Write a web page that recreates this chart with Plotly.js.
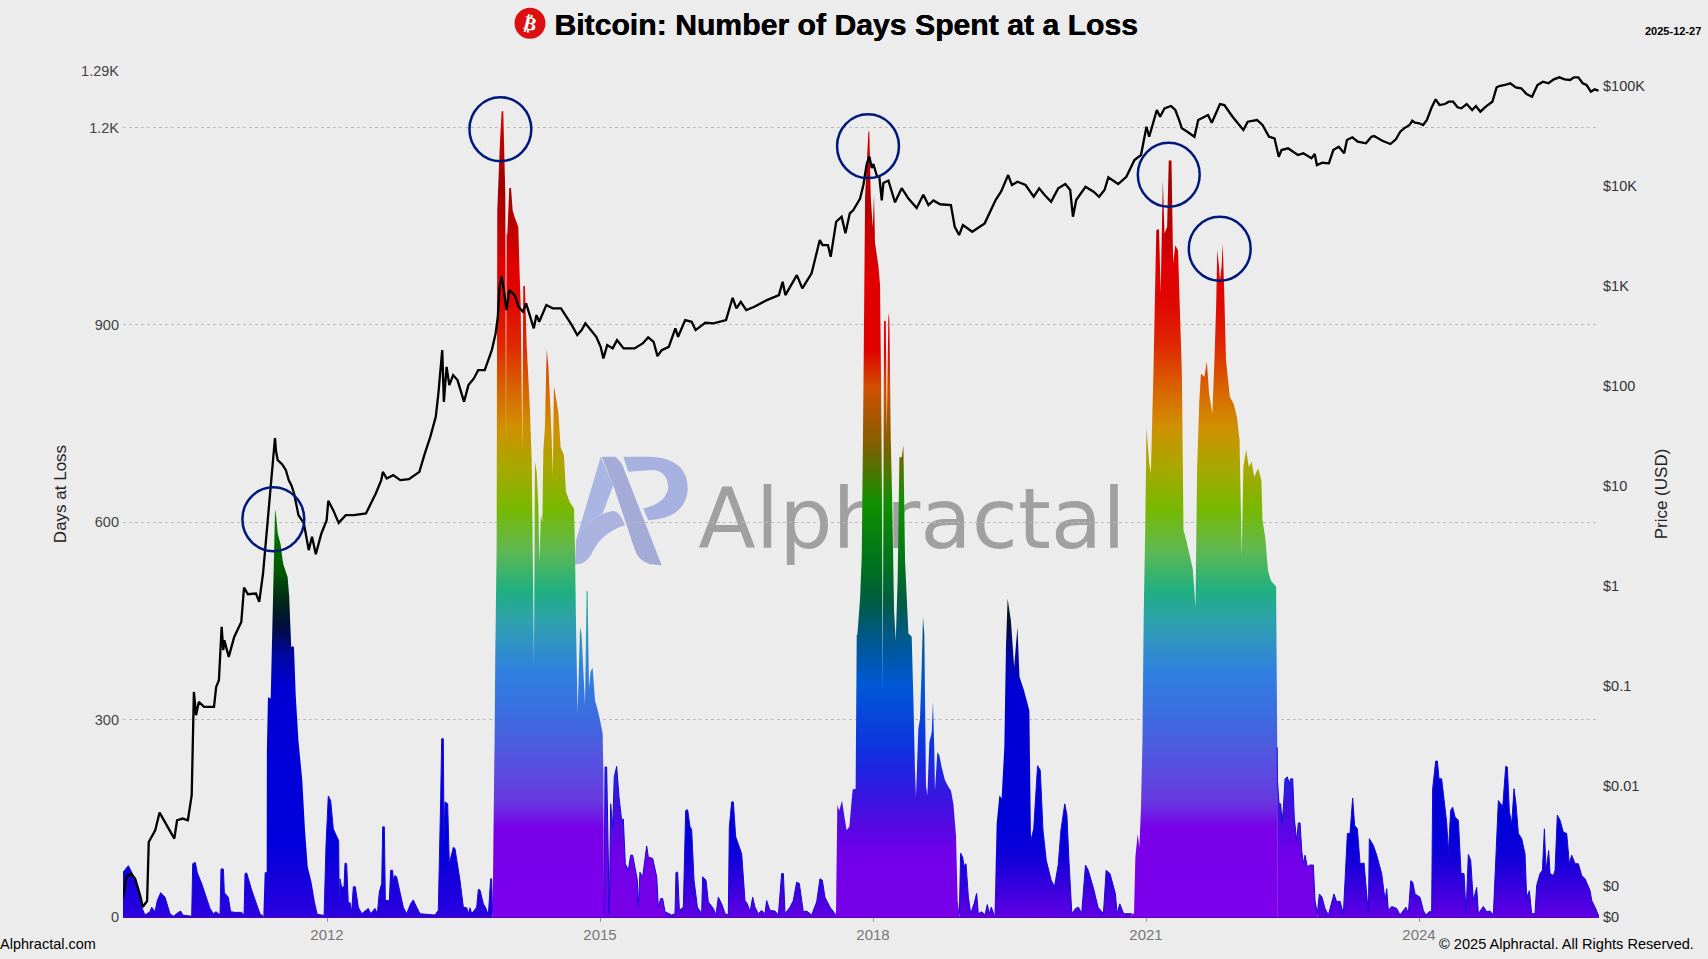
<!DOCTYPE html>
<html>
<head>
<meta charset="utf-8">
<script src="https://cdn.plot.ly/plotly-3.0.1.min.js"></script>
<style>html,body{margin:0;padding:0;background:#ececec}#c{width:1708px;height:959px}</style>
</head>
<body>
<div id="c"></div>
<script>
// Days at a loss: [decimal year, days], one array per stretch of the history
var eraA=[[2009.758,68],[2009.817,78],[2009.872,63],[2009.926,41],[2009.963,15],[2010.000,3],[2010.055,8],[2010.073,15],[2010.110,8],[2010.135,25],[2010.172,37],[2010.220,30],[2010.274,5],[2010.311,1],[2010.366,7],[2010.392,9],[2010.414,3],[2010.513,1],[2010.524,81],[2010.553,83],[2010.575,67],[2010.622,51],[2010.714,13],[2010.751,5],[2010.780,8],[2010.824,3],[2010.835,73],[2010.861,73],[2010.872,37],[2010.915,30],[2010.941,8],[2010.989,7],[2011.062,7],[2011.088,3],[2011.099,66],[2011.117,67],[2011.172,41],[2011.263,5],[2011.300,1]];
var eraB=[[2011.315,68],[2011.337,68],[2011.339,253],[2011.351,334],[2011.381,332],[2011.399,440],[2011.411,510],[2011.429,620],[2011.441,610],[2011.459,583],[2011.489,567],[2011.518,537],[2011.567,517],[2011.585,486],[2011.595,450],[2011.607,410],[2011.625,412],[2011.637,410],[2011.656,337],[2011.686,268],[2011.728,208],[2011.758,132],[2011.788,76],[2011.830,53],[2011.866,23],[2011.896,5],[2011.968,3]];
var eraC=[[2011.989,110],[2012.014,184],[2012.040,177],[2012.069,134],[2012.106,124],[2012.128,116],[2012.135,5],[2012.143,58],[2012.161,45],[2012.187,46],[2012.198,82],[2012.216,81],[2012.234,20],[2012.252,22],[2012.271,8],[2012.289,46],[2012.311,46],[2012.344,15],[2012.381,5],[2012.454,13],[2012.480,5],[2012.527,13],[2012.553,5],[2012.575,38],[2012.601,51],[2012.612,137],[2012.630,137],[2012.641,25],[2012.685,25],[2012.699,71],[2012.721,71],[2012.729,56],[2012.747,63],[2012.765,61],[2012.838,15],[2012.875,5],[2012.919,20],[2012.948,26],[2012.985,15],[2013.022,5],[2013.186,3],[2013.223,10],[2013.249,180],[2013.260,271],[2013.278,271],[2013.286,117],[2013.296,175],[2013.326,172],[2013.344,81],[2013.388,106],[2013.406,104],[2013.461,56],[2013.498,15],[2013.535,14],[2013.553,5],[2013.571,14],[2013.590,5],[2013.645,15],[2013.663,42],[2013.681,41],[2013.718,20],[2013.747,13],[2013.773,3],[2013.798,58],[2013.809,58],[2013.820,5]];
var eraD=[[2013.835,200],[2013.842,274],[2013.849,400],[2013.864,565],[2013.871,1074],[2013.901,1180],[2013.919,1225],[2013.937,1225],[2013.948,1161],[2013.959,1100],[2013.967,714],[2013.974,1040],[2013.981,1037],[2014.003,1108],[2014.022,1108],[2014.040,1074],[2014.066,1062],[2014.102,1049],[2014.113,993],[2014.128,931],[2014.139,800],[2014.146,708],[2014.157,959],[2014.175,959],[2014.194,869],[2014.230,770],[2014.249,695],[2014.260,565],[2014.274,382],[2014.285,692],[2014.304,677],[2014.322,627],[2014.333,540],[2014.351,612],[2014.366,600],[2014.377,708],[2014.395,745],[2014.414,863],[2014.432,838],[2014.458,764],[2014.469,726],[2014.480,670],[2014.494,807],[2014.542,767],[2014.567,714],[2014.604,702],[2014.626,646],[2014.670,630],[2014.714,621],[2014.725,559],[2014.736,447],[2014.754,310],[2014.780,441],[2014.798,429],[2014.835,323],[2014.853,497],[2014.864,494],[2014.879,348],[2014.897,373],[2014.919,379],[2014.945,329],[2014.981,311],[2015.000,299],[2015.029,279],[2015.037,218],[2015.044,5]];
var eraE=[[2015.055,228],[2015.073,228],[2015.091,116],[2015.102,5],[2015.117,172],[2015.139,137],[2015.157,213],[2015.183,229],[2015.209,182],[2015.238,147],[2015.256,149],[2015.278,81],[2015.311,71],[2015.337,94],[2015.359,94],[2015.385,71],[2015.410,56],[2015.421,15],[2015.439,68],[2015.469,61],[2015.513,108],[2015.531,91],[2015.579,89],[2015.623,61],[2015.641,15],[2015.667,28],[2015.689,28],[2015.714,8]];
var eraF=[[2015.787,3],[2015.824,5],[2015.835,68],[2015.853,68],[2015.872,10],[2015.916,15],[2015.941,162],[2015.963,163],[2015.989,137],[2016.007,133],[2016.033,56],[2016.070,15],[2016.117,5],[2016.128,61],[2016.165,56],[2016.190,23],[2016.245,13],[2016.275,3],[2016.300,30],[2016.337,20],[2016.374,5],[2016.410,3],[2016.421,137],[2016.447,175],[2016.465,175],[2016.491,122],[2016.557,96],[2016.593,25],[2016.619,20],[2016.648,8],[2016.678,30],[2016.703,15],[2016.740,5],[2016.776,10],[2016.813,5],[2016.831,25],[2016.868,10],[2016.923,9],[2016.960,3],[2016.996,66],[2017.015,66],[2017.033,5],[2017.088,15],[2017.124,25],[2017.161,53],[2017.190,51],[2017.234,8],[2017.271,9],[2017.326,3],[2017.381,23],[2017.417,58],[2017.443,56],[2017.472,30],[2017.527,15],[2017.582,5]];
var eraG=[[2017.593,5],[2017.608,170],[2017.630,162],[2017.659,177],[2017.692,147],[2017.710,132],[2017.740,137],[2017.765,177],[2017.776,194],[2017.809,195],[2017.821,429],[2017.828,429],[2017.858,484],[2017.876,548],[2017.894,792],[2017.913,1095],[2017.949,1194],[2017.960,1194],[2017.975,1095],[2017.997,1048],[2018.011,1098],[2018.022,1025],[2018.059,990],[2018.077,961],[2018.088,815],[2018.099,630],[2018.107,344],[2018.121,906],[2018.140,906],[2018.151,735],[2018.169,918],[2018.180,908],[2018.195,728],[2018.213,618],[2018.231,466],[2018.250,420],[2018.271,513],[2018.290,699],[2018.315,699],[2018.334,717],[2018.352,542],[2018.389,431],[2018.425,426],[2018.444,329],[2018.461,223],[2018.472,182],[2018.498,286],[2018.516,301],[2018.535,380],[2018.549,456],[2018.564,430],[2018.582,200],[2018.597,185],[2018.619,266],[2018.645,281],[2018.659,328],[2018.674,250],[2018.681,192],[2018.707,251],[2018.729,246],[2018.754,228],[2018.791,208],[2018.828,198],[2018.857,192],[2018.883,172],[2018.912,124],[2018.930,25],[2018.949,5]];
var eraH=[[2018.963,97],[2018.985,91],[2019.000,78],[2019.022,81],[2019.048,30],[2019.073,5],[2019.110,20],[2019.139,36],[2019.157,5],[2019.194,8],[2019.231,3],[2019.256,19],[2019.278,5],[2019.300,15],[2019.330,3]];
var eraI=[[2019.335,3],[2019.359,142],[2019.389,185],[2019.413,180],[2019.443,258],[2019.461,410],[2019.479,484],[2019.515,451],[2019.551,380],[2019.587,441],[2019.610,365],[2019.658,345],[2019.718,314],[2019.736,117]];
var eraJ=[[2019.766,134],[2019.808,230],[2019.838,223],[2019.868,132],[2019.904,86],[2019.958,56],[2019.994,46],[2020.035,79],[2020.065,132],[2020.107,172],[2020.131,155],[2020.155,81],[2020.185,5],[2020.227,13],[2020.257,15],[2020.293,5],[2020.335,79],[2020.365,71],[2020.394,58],[2020.424,43],[2020.472,15],[2020.532,5],[2020.562,71],[2020.604,66],[2020.664,35],[2020.682,5],[2020.712,20],[2020.754,5],[2020.843,5]];
var eraK=[[2020.868,5],[2020.883,91],[2020.908,126],[2020.927,106],[2020.945,167],[2020.960,263],[2020.975,461],[2020.993,603],[2021.005,745],[2021.035,690],[2021.053,674],[2021.083,836],[2021.113,1044],[2021.143,1046],[2021.161,948],[2021.185,1120],[2021.203,1039],[2021.232,1049],[2021.250,1150],[2021.280,1150],[2021.298,993],[2021.322,1021],[2021.352,1013],[2021.370,932],[2021.394,826],[2021.412,588],[2021.442,573],[2021.514,529],[2021.544,471],[2021.562,684],[2021.586,785],[2021.604,826],[2021.640,821],[2021.669,844],[2021.693,796],[2021.729,765],[2021.753,850],[2021.771,930],[2021.783,1014],[2021.801,990],[2021.813,968],[2021.831,990],[2021.843,1024],[2021.861,943],[2021.879,846],[2021.921,791],[2021.963,780],[2021.999,760],[2022.028,725],[2022.052,547],[2022.070,684],[2022.100,710],[2022.130,684],[2022.160,692],[2022.190,669],[2022.232,682],[2022.268,664],[2022.280,603],[2022.310,577],[2022.340,527],[2022.370,512],[2022.400,507],[2022.430,502],[2022.442,258]];
var eraL=[[2022.444,208],[2022.462,172],[2022.480,172],[2022.495,144],[2022.509,165],[2022.528,210],[2022.553,213],[2022.575,203],[2022.590,210],[2022.612,210],[2022.630,149],[2022.656,116],[2022.674,143],[2022.693,143],[2022.711,101],[2022.729,81],[2022.748,94],[2022.773,76],[2022.802,79],[2022.839,79],[2022.857,25],[2022.883,5]];
var eraM=[[2022.905,35],[2022.934,30],[2022.967,13],[2023.004,3],[2023.041,20],[2023.066,35],[2023.095,23],[2023.132,24],[2023.169,5],[2023.198,100],[2023.213,127],[2023.242,127],[2023.271,181],[2023.293,139],[2023.323,134],[2023.352,81],[2023.396,82],[2023.425,35],[2023.444,5],[2023.454,119],[2023.498,109],[2023.535,94],[2023.590,66],[2023.627,25],[2023.645,43],[2023.663,10],[2023.700,16],[2023.755,13],[2023.791,3],[2023.857,15],[2023.883,5],[2023.909,55],[2023.931,53],[2023.956,35],[2024.011,30],[2024.048,10],[2024.074,3],[2024.121,9],[2024.139,5],[2024.150,195],[2024.183,237],[2024.202,237],[2024.220,210],[2024.249,210],[2024.275,177],[2024.304,144],[2024.323,99],[2024.348,162],[2024.370,167],[2024.396,152],[2024.433,147],[2024.462,66],[2024.495,66],[2024.517,5],[2024.542,95],[2024.568,86],[2024.597,25],[2024.634,45],[2024.652,5],[2024.707,16],[2024.744,8],[2024.781,9],[2024.817,3],[2024.846,86],[2024.872,177],[2024.898,172],[2024.920,168],[2024.953,229],[2024.971,228],[2024.993,160],[2025.019,142],[2025.044,195],[2025.066,172],[2025.092,127],[2025.129,119],[2025.165,96],[2025.183,30],[2025.213,40],[2025.238,5],[2025.275,5],[2025.293,48],[2025.330,66],[2025.356,71],[2025.378,134],[2025.396,71],[2025.425,101],[2025.440,66],[2025.477,63],[2025.495,71],[2025.520,155],[2025.550,147],[2025.586,129],[2025.623,127],[2025.652,81],[2025.678,94],[2025.715,81],[2025.751,81],[2025.788,63],[2025.825,58],[2025.880,40],[2025.898,25],[2025.934,15],[2025.960,5],[2025.980,0]];

// BTC price: [decimal year, log10 of USD price]
var priceA=[[2009.76,-3.107],[2009.795,-2.907],[2009.843,-2.873],[2009.891,-2.923],[2009.951,-3.107],[2009.975,-3.207],[2010.023,-3.147],[2010.041,-2.557],[2010.112,-2.44],[2010.16,-2.263],[2010.322,-2.523],[2010.352,-2.34],[2010.412,-2.323],[2010.471,-2.34],[2010.513,-2.09],[2010.537,-1.057],[2010.561,-1.29],[2010.591,-1.157],[2010.65,-1.207],[2010.758,-1.207],[2010.782,-1.007],[2010.812,-0.94],[2010.842,-0.407],[2010.86,-0.64],[2010.872,-0.54],[2010.92,-0.707],[2010.98,-0.507],[2011.058,-0.357],[2011.088,-0.013],[2011.13,-0.08],[2011.219,-0.073],[2011.255,-0.157],[2011.297,0.127],[2011.339,0.56],[2011.381,0.927],[2011.416,1.3],[2011.428,1.48],[2011.44,1.35],[2011.458,1.26],[2011.506,1.22],[2011.548,1.16],[2011.579,1.06],[2011.608,1.01],[2011.638,0.927],[2011.686,0.71],[2011.746,0.627],[2011.799,0.36],[2011.835,0.493],[2011.877,0.32],[2011.938,0.527],[2011.996,0.66],[2012.014,0.853],[2012.068,0.76],[2012.128,0.633],[2012.206,0.71],[2012.296,0.71],[2012.428,0.727],[2012.536,0.927],[2012.596,1.06],[2012.613,1.143],[2012.656,1.077],[2012.727,1.11],[2012.805,1.06],[2012.9,1.07],[2013.015,1.143],[2013.075,1.327],[2013.135,1.493],[2013.195,1.693],[2013.224,1.927],[2013.266,2.36],[2013.284,1.843],[2013.314,2.193],[2013.344,2.01],[2013.386,2.11],[2013.434,2.06],[2013.506,1.843],[2013.554,2.01],[2013.614,2.077],[2013.661,2.16],[2013.733,2.16],[2013.811,2.36],[2013.853,2.527],[2013.877,2.693],[2013.895,2.993],[2013.919,3.093],[2013.943,2.96],[2013.973,2.76]];
var priceB=[[2014.003,2.96],[2014.063,2.91],[2014.105,2.793],[2014.153,2.743],[2014.188,2.827],[2014.242,2.66],[2014.272,2.577],[2014.302,2.71],[2014.332,2.643],[2014.41,2.81],[2014.481,2.777],[2014.571,2.777],[2014.63,2.693],[2014.69,2.61],[2014.75,2.51],[2014.798,2.56],[2014.839,2.627],[2014.899,2.56],[2014.959,2.493],[2015.007,2.393],[2015.037,2.277],[2015.079,2.41],[2015.139,2.377],[2015.187,2.46],[2015.259,2.377],[2015.379,2.377],[2015.469,2.427],[2015.529,2.487],[2015.589,2.443],[2015.631,2.3],[2015.678,2.36],[2015.756,2.393],[2015.828,2.577],[2015.858,2.493],[2015.936,2.66],[2016.007,2.643],[2016.05,2.56],[2016.157,2.633],[2016.247,2.627],[2016.385,2.66],[2016.457,2.883],[2016.499,2.777],[2016.547,2.843],[2016.607,2.76],[2016.696,2.793],[2016.834,2.86],[2016.966,2.91],[2017.007,3.043],[2017.037,2.91],[2017.163,3.11],[2017.223,2.977],[2017.325,3.127],[2017.415,3.46],[2017.445,3.41],[2017.505,3.41],[2017.535,3.293],[2017.595,3.643],[2017.655,3.693],[2017.697,3.527],[2017.745,3.727],[2017.784,3.76],[2017.858,3.875],[2017.894,4.01],[2017.931,4.22],[2017.96,4.296],[2017.986,4.18],[2018.004,4.22],[2018.041,4.105],[2018.07,4.086],[2018.096,3.856],[2018.114,4.03],[2018.169,4.055],[2018.242,3.837],[2018.315,3.979],[2018.389,3.875],[2018.48,3.78],[2018.553,3.914],[2018.609,3.81],[2018.664,3.856],[2018.737,3.818],[2018.856,3.81],[2018.898,3.593],[2018.946,3.51],[2018.988,3.61]];
var priceC=[[2019.09,3.543],[2019.227,3.627],[2019.347,3.86],[2019.407,3.943],[2019.485,4.11],[2019.527,4.01],[2019.587,4.043],[2019.676,4.01],[2019.766,3.893],[2019.826,3.977],[2019.886,3.91],[2019.957,3.843],[2020.035,3.977],[2020.113,4.02],[2020.167,3.96],[2020.197,3.693],[2020.233,3.86],[2020.335,3.993],[2020.424,3.943],[2020.484,3.893],[2020.544,3.96],[2020.586,4.087],[2020.694,4.02],[2020.784,4.093],[2020.873,4.26],[2020.945,4.31],[2021.005,4.593],[2021.035,4.493],[2021.119,4.76],[2021.155,4.693],[2021.203,4.777],[2021.274,4.8],[2021.322,4.76],[2021.364,4.66],[2021.394,4.577],[2021.454,4.543],[2021.532,4.493],[2021.574,4.66],[2021.681,4.71],[2021.723,4.633],[2021.813,4.82],[2021.861,4.81],[2021.951,4.693],[2022.07,4.56],[2022.118,4.643],[2022.22,4.66],[2022.28,4.61],[2022.352,4.493],[2022.412,4.477],[2022.459,4.293],[2022.489,4.36],[2022.561,4.377],[2022.609,4.343],[2022.669,4.31],[2022.729,4.327],[2022.818,4.277],[2022.854,4.32],[2022.878,4.21],[2022.938,4.233],[2023.01,4.227],[2023.058,4.36],[2023.118,4.393],[2023.178,4.327],[2023.208,4.46],[2023.267,4.487],[2023.327,4.443],[2023.417,4.427],[2023.477,4.493],[2023.507,4.5],[2023.597,4.453],[2023.686,4.42],[2023.746,4.467],[2023.794,4.543],[2023.836,4.577],[2023.896,4.61],[2023.926,4.653],[2023.956,4.633],[2024.003,4.627],[2024.045,4.61],[2024.087,4.66],[2024.135,4.777],[2024.183,4.867],[2024.225,4.81],[2024.285,4.82],[2024.327,4.843],[2024.375,4.843],[2024.423,4.787],[2024.465,4.777],[2024.524,4.82],[2024.584,4.76],[2024.626,4.8],[2024.674,4.743],[2024.734,4.793],[2024.806,4.843],[2024.853,4.987],[2024.883,5.0],[2024.943,5.01],[2025.003,5.027],[2025.063,4.987],[2025.123,4.977],[2025.182,4.92],[2025.242,4.893],[2025.302,5.01],[2025.362,5.043],[2025.422,5.027],[2025.482,5.067],[2025.542,5.087],[2025.601,5.067],[2025.661,5.06],[2025.703,5.087],[2025.751,5.087],[2025.799,5.027],[2025.841,5.01],[2025.889,4.943],[2025.931,4.967],[2025.973,4.953]];

// axis ticks
var xTicks=[2012,2015,2018,2021,2024];
var dayTicks=[0,300,600,900,1200,1286];
var dayTickText=['0','300','600','900','1.2K','1.29K'];
var priceTicks=[0.000493,0.001,0.01,0.1,1,10,100,1000,10000,100000];
var priceTickText=['$0','$0','$0.01','$0.1','$1','$10','$100','$1K','$10K','$100K'];

// circled peaks: year, days
var peakYears=[2011.41,2013.905,2017.945,2021.25,2021.81];
var peakDays=[604.6,1197.5,1171.7,1128.3,1015.8];

// colour ramps, as [days, colour]
var rampLight=[[0,'#7d00ee'],[135,'#7800e8'],[175,'#6838e0'],[253,'#5058e0'],[304,'#3c6ce0'],[373,'#3080e0'],[447,'#2fa0b0'],[497,'#20b080'],[559,'#60b850'],[621,'#78b800'],[683,'#a8a800'],[745,'#d09000'],[807,'#d86000'],[869,'#e02800'],[931,'#e00800'],[993,'#e00000'],[1055,'#b80000'],[1117,'#a00000'],[1223,'#d80000'],[1286,'#d80000']];
var rampMid=[[0,'#7800e8'],[100,'#7000e8'],[170,'#4010e0'],[250,'#1030e0'],[350,'#0058d8'],[420,'#005890'],[480,'#005c40'],[530,'#007020'],[630,'#109000'],[717,'#806000'],[804,'#d05000'],[862,'#e00000'],[978,'#e00000'],[1095,'#b00000'],[1194,'#d80000'],[1286,'#d80000']];
var rampDark=[[0,'#6000e4'],[40,'#3c00de'],[90,'#1000da'],[130,'#0000d8'],[350,'#0000d4'],[400,'#0008a0'],[440,'#000c40'],[480,'#002818'],[530,'#005c00'],[620,'#008000'],[700,'#707000'],[800,'#d05000'],[862,'#e00000'],[1286,'#e00000']];
var rampEarly=[[0,'#2c00e0'],[60,'#1400dc'],[110,'#0000dc'],[350,'#0000d4'],[400,'#0008a0'],[440,'#000c40'],[480,'#002818'],[530,'#005c00'],[620,'#008000'],[1286,'#808000']];

var DAY_MAX=1286;
function scale(r){return r.map(function(p){return [p[0]/DAY_MAX,p[1]];});}
var eras=[[eraA,rampEarly,true],[eraB,rampEarly,false],[eraC,rampEarly,true],[eraD,rampLight,false],[eraE,rampMid,true],[eraF,rampDark,true],[eraG,rampMid,false],[eraH,rampDark,true],[eraI,rampDark,false],[eraJ,rampDark,true],[eraK,rampLight,false],[eraL,rampMid,true],[eraM,rampDark,true]];
var traces=[];
eras.forEach(function(e,i){
  var pts=(i>0?[eras[i-1][0][eras[i-1][0].length-1]]:[]).concat(e[0]);
  traces.push({type:'scatter',mode:e[2]?'lines':'none',x:pts.map(function(p){return p[0];}),y:pts.map(function(p){return p[1];}),
    fill:'tozeroy',fillgradient:{type:'vertical',colorscale:scale(e[1]),start:0,stop:DAY_MAX},
    line:{color:'#1608d8',width:e[2]?1:0,shape:'linear'},hoverinfo:'skip',showlegend:false,xaxis:'x',yaxis:'y'});
});
var price=priceA.concat(priceB,priceC);
traces.push({type:'scatter',mode:'lines',x:price.map(function(p){return p[0];}),y:price.map(function(p){return Math.pow(10,p[1]);}),line:{color:'#000',width:2.3},hoverinfo:'skip',showlegend:false,xaxis:'x',yaxis:'y2'});

var W=1708,H=959,L=123,R=1599,T=71,B=916.7;
function fx(p){return (p-L)/(R-L);} function fy(p){return (B-p)/(B-T);}
var logoBlue='#a9b6e3',logoDeep='#a3abd6';
function logo(path,col){return {type:'path',layer:'below',xref:'paper',yref:'paper',xsizemode:'pixel',ysizemode:'pixel',xanchor:fx(560),yanchor:fy(440),path:path,fillcolor:col,line:{width:0}};}
function P(s){return s.replace(/(-?[\d.]+),(-?[\d.]+)/g,function(m,a,b){return (a/3).toFixed(1)+','+(-b/3).toFixed(1);});}
var shapes=[
 logo(P('M122,50 L160,135 L128,220 Q85,240 48,300 Z'),logoBlue),
 logo(P('M48,300 Q90,225 160,212 Q180,215 195,255 Q130,275 100,330 Q80,375 45,372 Z'),'#aab3df'),
 logo(P('M125,50 L165,50 Q185,62 195,95 L305,375 L270,372 Q235,360 225,330 L160,135 Z'),logoDeep),
 logo(P('M190,50 L270,50 Q385,55 383,150 Q375,235 265,240 L250,205 Q320,190 325,140 Q320,85 265,90 L205,95 Z'),'#a6b1e0'),
 {type:'rect',layer:'below',xref:'paper',yref:'paper',x0:fx(700),x1:fx(1124),y0:fy(565),y1:fy(461),line:{width:0},fillcolor:'rgba(0,0,0,0)',
  label:{text:'Alphractal',textposition:'middle center',font:{family:'DejaVu Sans',size:84,color:'#a0a0a0',weight:400}}},
 {type:'circle',xref:'paper',yref:'paper',xsizemode:'pixel',ysizemode:'pixel',xanchor:fx(530),yanchor:fy(23.3),x0:-15.5,x1:15.5,y0:-15.5,y1:15.5,fillcolor:'#dc1010',line:{width:0}}
];
peakYears.forEach(function(yr,i){
  shapes.push({type:'circle',xref:'x',yref:'y',x0:yr-0.34,x1:yr+0.34,y0:peakDays[i]-48.5,y1:peakDays[i]+48.5,line:{color:'#00187c',width:2.5},fillcolor:'rgba(0,0,0,0)'});
});
var textFont='"Liberation Sans",Arial,sans-serif';
var layout={
 width:W,height:H,autosize:false,paper_bgcolor:'#ececec',plot_bgcolor:'#ececec',showlegend:false,
 margin:{l:L,r:W-R,t:T,b:H-B,pad:0},
 font:{family:textFont,color:'#444',size:14},
 title:{text:'<b>Bitcoin: Number of Days Spent at a Loss</b>',x:846/W,xanchor:'center',y:1-24/H,yanchor:'middle',font:{family:textFont,size:30.2,color:'#000',shadow:'0.5px 0 0 #000'}},
 xaxis:{type:'linear',range:[2009.758,2025.978],tickmode:'array',tickvals:xTicks,ticktext:xTicks.map(String),showgrid:false,zeroline:false,showline:true,linecolor:'#5a00b4',linewidth:1,ticks:'outside',ticklen:4,tickcolor:'#999',tickfont:{size:15,color:'#777'}},
 yaxis:{range:[0,DAY_MAX],tickmode:'array',tickvals:dayTicks,ticktext:dayTickText,showgrid:true,gridcolor:'#bbbbbb',griddash:'dot',gridwidth:1,zeroline:false,showline:false,ticks:'',ticklabelstandoff:3,tickfont:{size:14.5,color:'#444'},title:{text:'Days at Loss',font:{size:17,color:'#222'},standoff:10}},
 yaxis2:{type:'log',overlaying:'y',side:'right',range:[-3.307,5.15],tickmode:'array',tickvals:priceTicks,ticktext:priceTickText,showgrid:false,zeroline:false,showline:false,ticks:'',ticklabelstandoff:3,tickfont:{size:14.5,color:'#333'},title:{text:'Price (USD)',font:{size:17,color:'#222'},standoff:10}},
 shapes:shapes,
 annotations:[
  {xref:'paper',yref:'paper',x:fx(530),y:fy(23.3),text:'<b>₿</b>',showarrow:false,textangle:14,font:{family:'DejaVu Sans',size:19,color:'#fff'},xanchor:'center',yanchor:'middle'},
  {xref:'paper',yref:'paper',x:fx(1703),y:fy(31),text:'<b>2025-12-27</b>',showarrow:false,xanchor:'right',yanchor:'middle',font:{size:11,color:'#000'}},
  {xref:'paper',yref:'paper',x:fx(-2),y:fy(944),text:'Alphractal.com',showarrow:false,xanchor:'left',yanchor:'middle',font:{size:14.5,color:'#000'}},
  {xref:'paper',yref:'paper',x:fx(1696),y:fy(944),text:'© 2025 Alphractal. All Rights Reserved.',showarrow:false,xanchor:'right',yanchor:'middle',font:{size:14.6,color:'#000'}}
 ]
};
Plotly.newPlot('c',traces,layout,{displayModeBar:false,staticPlot:true});
</script>
</body>
</html>
